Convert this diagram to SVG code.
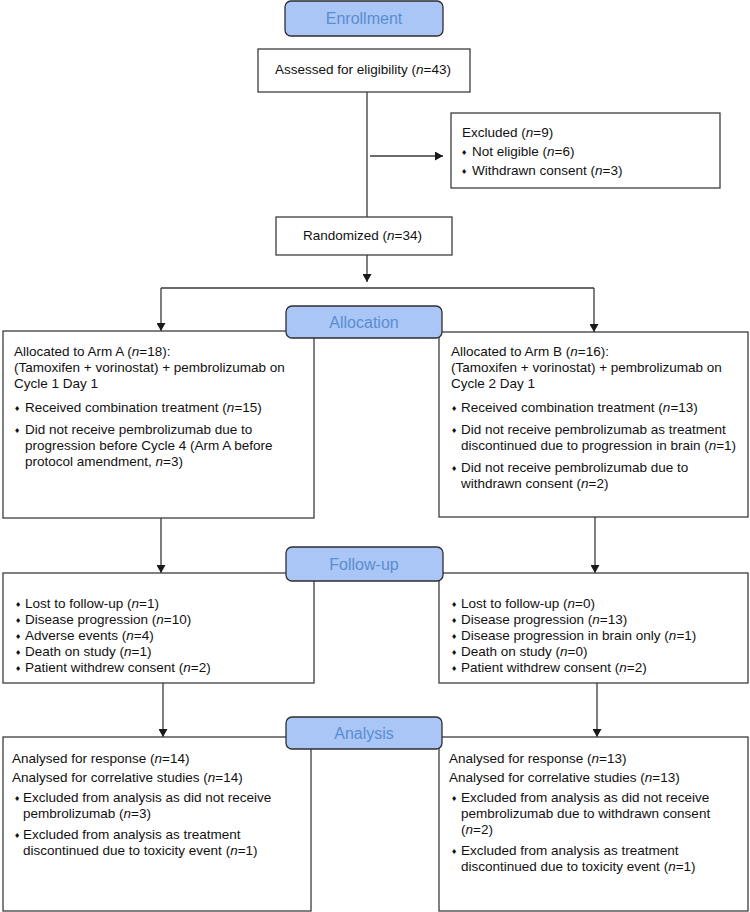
<svg xmlns="http://www.w3.org/2000/svg" width="750" height="912" viewBox="0 0 750 912">
<defs>
<style>
.box{fill:#fff;stroke:#3c3c3c;stroke-width:1.3}
.hdr{fill:#a9c6f7;stroke:#2e2e2e;stroke-width:1.3}
.ht{font-family:"Liberation Sans",Arial,sans-serif;font-size:16px;fill:#5b8dcf;text-anchor:middle}
.t{font-family:"Liberation Sans",Arial,sans-serif;font-size:13.5px;fill:#111}
.b{font-family:"DejaVu Sans","Liberation Sans",sans-serif;font-size:7px;fill:#111}
.i{font-style:italic}
.ln{fill:none;stroke:#3a3a3a;stroke-width:1.3}
</style>
<marker id="ah" viewBox="0 0 8 9" refX="8" refY="4.5" markerWidth="8" markerHeight="9" markerUnits="userSpaceOnUse" orient="auto">
<path d="M0,0 L8,4.5 L0,9 z" fill="#1a1a1a"/>
</marker>
</defs>
<rect width="750" height="912" fill="#fff"/>

<g id="connectors">
<line class="ln" x1="367" y1="92" x2="367" y2="217"/>
<line class="ln" x1="370" y1="156" x2="443" y2="156" marker-end="url(#ah)"/>
<line class="ln" x1="367" y1="255" x2="367" y2="282" marker-end="url(#ah)"/>
<line class="ln" x1="161" y1="288" x2="594" y2="288"/>
<line class="ln" x1="161" y1="288" x2="161" y2="331" marker-end="url(#ah)"/>
<line class="ln" x1="594" y1="288" x2="594" y2="332" marker-end="url(#ah)"/>
<line class="ln" x1="161" y1="518" x2="161" y2="573" marker-end="url(#ah)"/>
<line class="ln" x1="595" y1="517" x2="595" y2="573" marker-end="url(#ah)"/>
<line class="ln" x1="163" y1="683" x2="163" y2="737" marker-end="url(#ah)"/>
<line class="ln" x1="597" y1="683" x2="597" y2="737" marker-end="url(#ah)"/>
</g>

<g id="assessed">
<rect class="box" x="258" y="49" width="212" height="43"/>
<text class="t" x="275" y="74">Assessed for eligibility (<tspan class="i">n</tspan>=43)</text>
</g>

<g id="excluded">
<rect class="box" x="451" y="113" width="269" height="75"/>
<text class="t" x="462" y="137">Excluded (<tspan class="i">n</tspan>=9)</text>
<text class="b" x="461" y="155">♦</text>
<text class="t" x="472" y="156">Not eligible (<tspan class="i">n</tspan>=6)</text>
<text class="b" x="461" y="174">♦</text>
<text class="t" x="472" y="175">Withdrawn consent (<tspan class="i">n</tspan>=3)</text>
</g>

<g id="randomized">
<rect class="box" x="276" y="217" width="176" height="38"/>
<text class="t" x="303" y="240">Randomized (<tspan class="i">n</tspan>=34)</text>
</g>

<g id="armA">
<rect class="box" x="3" y="331" width="311" height="187"/>
<text class="t" x="14" y="356">Allocated to Arm A (<tspan class="i">n</tspan>=18):</text>
<text class="t" x="14" y="372">(Tamoxifen + vorinostat) + pembrolizumab on</text>
<text class="t" x="14" y="388">Cycle 1 Day 1</text>
<text class="b" x="14" y="411">♦</text>
<text class="t" x="25" y="412">Received combination treatment (<tspan class="i">n</tspan>=15)</text>
<text class="b" x="14" y="433">♦</text>
<text class="t" x="25" y="434">Did not receive pembrolizumab due to</text>
<text class="t" x="25" y="450">progression before Cycle 4 (Arm A before</text>
<text class="t" x="25" y="466">protocol amendment, <tspan class="i">n</tspan>=3)</text>
</g>

<g id="armB">
<rect class="box" x="439" y="332" width="309" height="185"/>
<text class="t" x="451" y="356">Allocated to Arm B (<tspan class="i">n</tspan>=16):</text>
<text class="t" x="451" y="372">(Tamoxifen + vorinostat) + pembrolizumab on</text>
<text class="t" x="451" y="388">Cycle 2 Day 1</text>
<text class="b" x="451" y="411">♦</text>
<text class="t" x="461" y="412">Received combination treatment (<tspan class="i">n</tspan>=13)</text>
<text class="b" x="451" y="433">♦</text>
<text class="t" x="461" y="434">Did not receive pembrolizumab as treatment</text>
<text class="t" x="461" y="450">discontinued due to progression in brain (<tspan class="i">n</tspan>=1)</text>
<text class="b" x="451" y="471">♦</text>
<text class="t" x="461" y="472">Did not receive pembrolizumab due to</text>
<text class="t" x="461" y="488">withdrawn consent (<tspan class="i">n</tspan>=2)</text>
</g>

<g id="followA">
<rect class="box" x="3" y="573" width="311" height="110"/>
<text class="b" x="15" y="607">♦</text>
<text class="t" x="25" y="608">Lost to follow-up (<tspan class="i">n</tspan>=1)</text>
<text class="b" x="15" y="623">♦</text>
<text class="t" x="25" y="624">Disease progression (<tspan class="i">n</tspan>=10)</text>
<text class="b" x="15" y="639">♦</text>
<text class="t" x="25" y="640">Adverse events (<tspan class="i">n</tspan>=4)</text>
<text class="b" x="15" y="655">♦</text>
<text class="t" x="25" y="656">Death on study (<tspan class="i">n</tspan>=1)</text>
<text class="b" x="15" y="671">♦</text>
<text class="t" x="25" y="672">Patient withdrew consent (<tspan class="i">n</tspan>=2)</text>
</g>

<g id="followB">
<rect class="box" x="439" y="573" width="309" height="110"/>
<text class="b" x="451" y="607">♦</text>
<text class="t" x="461" y="608">Lost to follow-up (<tspan class="i">n</tspan>=0)</text>
<text class="b" x="451" y="623">♦</text>
<text class="t" x="461" y="624">Disease progression (<tspan class="i">n</tspan>=13)</text>
<text class="b" x="451" y="639">♦</text>
<text class="t" x="461" y="640">Disease progression in brain only (<tspan class="i">n</tspan>=1)</text>
<text class="b" x="451" y="655">♦</text>
<text class="t" x="461" y="656">Death on study (<tspan class="i">n</tspan>=0)</text>
<text class="b" x="451" y="671">♦</text>
<text class="t" x="461" y="672">Patient withdrew consent (<tspan class="i">n</tspan>=2)</text>
</g>

<g id="analysisA">
<rect class="box" x="3" y="737" width="308" height="174"/>
<text class="t" x="12" y="763">Analysed for response (<tspan class="i">n</tspan>=14)</text>
<text class="t" x="12" y="782">Analysed for correlative studies (<tspan class="i">n</tspan>=14)</text>
<text class="b" x="14" y="801">♦</text>
<text class="t" x="23" y="802">Excluded from analysis as did not receive</text>
<text class="t" x="23" y="818">pembrolizumab (<tspan class="i">n</tspan>=3)</text>
<text class="b" x="14" y="838">♦</text>
<text class="t" x="23" y="839">Excluded from analysis as treatment</text>
<text class="t" x="23" y="855">discontinued due to toxicity event (<tspan class="i">n</tspan>=1)</text>
</g>

<g id="analysisB">
<rect class="box" x="439" y="737" width="309" height="174"/>
<text class="t" x="449" y="763">Analysed for response (<tspan class="i">n</tspan>=13)</text>
<text class="t" x="449" y="782">Analysed for correlative studies (<tspan class="i">n</tspan>=13)</text>
<text class="b" x="451" y="801">♦</text>
<text class="t" x="461" y="802">Excluded from analysis as did not receive</text>
<text class="t" x="461" y="818">pembrolizumab due to withdrawn consent</text>
<text class="t" x="461" y="834">(<tspan class="i">n</tspan>=2)</text>
<text class="b" x="451" y="854">♦</text>
<text class="t" x="461" y="855">Excluded from analysis as treatment</text>
<text class="t" x="461" y="871">discontinued due to toxicity event (<tspan class="i">n</tspan>=1)</text>
</g>

<g id="hdr-enrollment">
<rect class="hdr" x="285" y="1" width="158" height="35" rx="6"/>
<text class="ht" x="364" y="24">Enrollment</text>
</g>
<g id="hdr-allocation">
<rect class="hdr" x="286" y="306" width="156" height="32" rx="6"/>
<text class="ht" x="364" y="328">Allocation</text>
</g>
<g id="hdr-followup">
<rect class="hdr" x="286" y="547" width="157" height="34" rx="6"/>
<text class="ht" x="364" y="570">Follow-up</text>
</g>
<g id="hdr-analysis">
<rect class="hdr" x="286" y="717" width="156" height="32" rx="6"/>
<text class="ht" x="364" y="739">Analysis</text>
</g>
</svg>
